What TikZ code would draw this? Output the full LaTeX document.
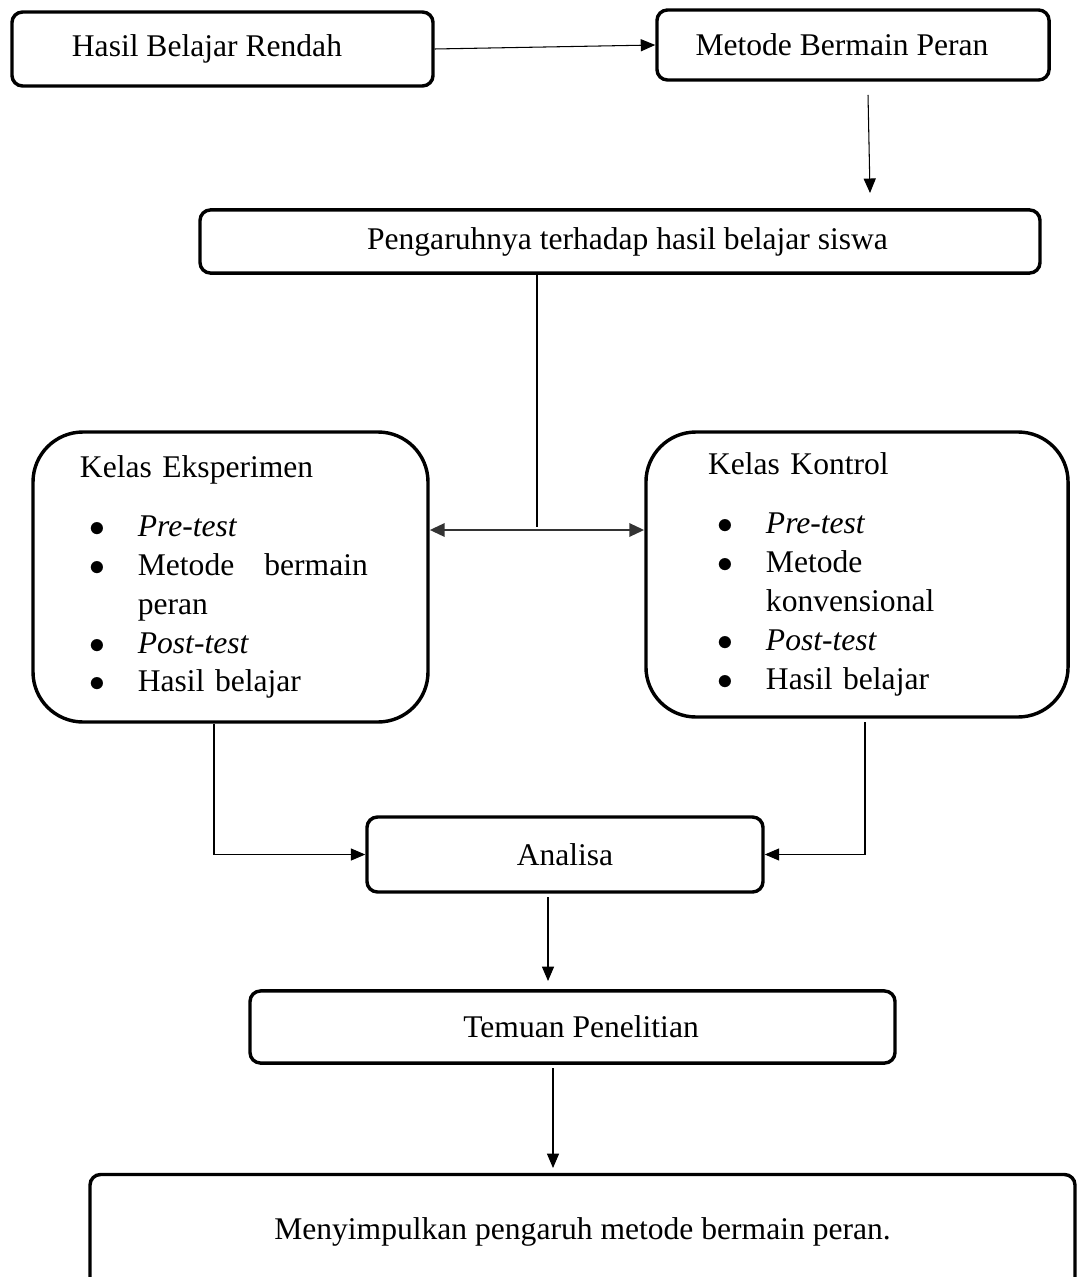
\documentclass[tikz,border=0pt]{standalone}
\usepackage{fontspec}
\setmainfont{Liberation Serif}
\usetikzlibrary{arrows.meta,calc}

% bullet line inside the class boxes
\newcommand{\butir}[1]{\makebox[22pt][l]{\hspace{3.5pt}$\bullet$}#1}
\newcommand{\lanjut}[1]{\hspace*{22pt}#1}

\tikzset{
  kotak/.style={draw, line width=1.3pt, rounded corners=4pt, inner sep=0pt,
                font=\fontsize{12pt}{14.5pt}\selectfont},
  kelas/.style={draw, line width=1.3pt, rounded corners=19pt, inner sep=0pt,
                align=left, font=\fontsize{12pt}{14.8pt}\selectfont},
  ujung/.tip={Triangle[length=5.7pt,width=5pt]},
  panah/.style={-{Triangle[length=5.5pt,width=4.6pt]}, line width=0.4pt},
  garis/.style={line width=0.4pt}
}

\begin{document}
\begin{tikzpicture}[x=0.38pt, y=-0.38pt]
        \useasboundingbox (0,0) rectangle (1077,1277);
        \clip (0,0) rectangle (1077,1277);

        % top row
        \node[kotak, minimum width=160pt, minimum height=28.1pt] (rendah) at (222.5,49)
            {Hasil Belajar Rendah\hspace*{11.8pt}};
        \node[kotak, minimum width=149pt, minimum height=26.6pt] (metode) at (853,45)
            {Metode Bermain Peran\hspace*{8.4pt}};
        \draw[panah] (rendah.east) -- (metode.west);

        % influence
        \node[kotak, minimum width=319.2pt, minimum height=24pt] (pengaruh) at (620,241.5)
            {\hspace*{5.7pt}Pengaruhnya terhadap hasil belajar siswa};
        \coordinate (m1) at (868,95);
        \coordinate (m2) at (870,193);
        \draw[panah] (m1) -- (m2);

        % the two classes
        \node[kelas, minimum width=150.1pt, minimum height=110.2pt, text width=114.4pt] (eksp) at (230.5,577)
            {Kelas Eksperimen\\[7.6pt]
             \butir{\textit{Pre-test}}\\
             \butir{\makebox[87.4pt][l]{Metode\hfill bermain}}\\
             \lanjut{peran}\\
             \butir{\textit{Post-test}}\\
             \butir{Hasil belajar}};
        \node[kelas, minimum width=160.4pt, minimum height=108.3pt, text width=113.2pt] (kontrol) at (857,574.5)
            {Kelas Kontrol\\[7.6pt]
             \butir{\textit{Pre-test}}\\
             \butir{Metode}\\
             \lanjut{konvensional}\\
             \butir{\textit{Post-test}}\\
             \butir{Hasil belajar}};

        % link between the classes
        \coordinate (tengah) at (537,527);
        \draw[garis] (pengaruh.south -| tengah) -- (tengah);
        \draw[{ujung}-{ujung}, line width=1.1pt, black!80]
            (eksp.east |- 0,530) -- (kontrol.west |- 0,530);

        % analysis
        \node[kotak, minimum width=150.5pt, minimum height=28.5pt] (analisa) at (565,854.5) {Analisa};
        \coordinate (e1) at (214,724);
        \coordinate (k1) at (865,722);
        \draw[panah] (e1) |- (analisa.west);
        \draw[panah] (k1) |- (analisa.east);

        % findings
        \node[kotak, minimum width=245.1pt, minimum height=27.4pt] (temuan) at (572.5,1027)
            {\hspace*{6.5pt}Temuan Penelitian};
        \coordinate (a1) at (548,897);
        \coordinate (a2) at (548,981);
        \draw[panah] (a1) -- (a2);

        % conclusion
        \node[kotak, minimum width=374.3pt, minimum height=43.7pt] (simpul) at (582.5,1232)
            {Menyimpulkan pengaruh metode bermain peran.};
        \coordinate (t1) at (553,1068);
        \coordinate (t2) at (553,1168);
        \draw[panah] (t1) -- (t2);
\end{tikzpicture}
\end{document}
